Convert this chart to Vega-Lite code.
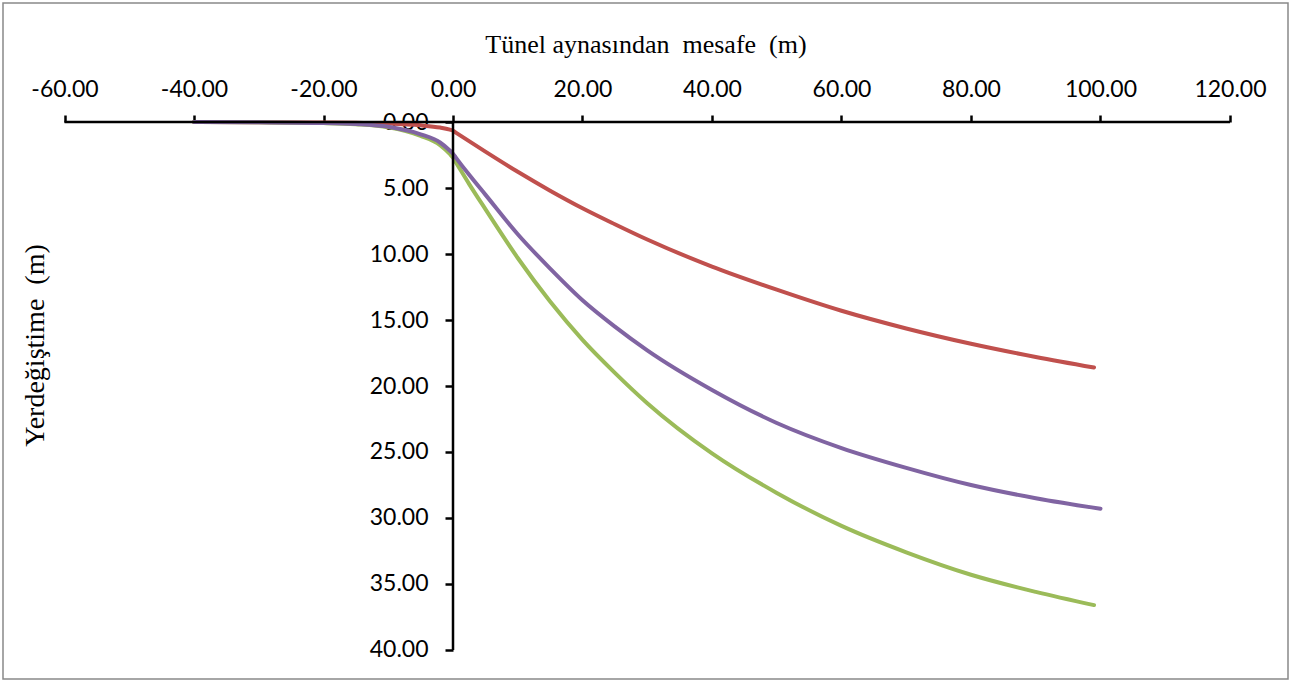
{
  "$schema": "https://vega.github.io/schema/vega-lite/v6.json",
  "width": 1285,
  "height": 676,
  "autosize": "none",
  "padding": {"left": 3, "top": 3, "right": 11, "bottom": 3},
  "background": "white",
  "config": {
    "view": {"stroke": "#898989", "strokeWidth": 1.5},
    "axis": {
      "grid": false,
      "domain": false,
      "tickColor": "black",
      "tickWidth": 2.5,
      "labelColor": "black",
      "labelFont": "Lato",
      "labelFontSize": 23,
      "labelOverlap": false,
      "labelFlush": false,
      "titleColor": "black",
      "titleFont": "Liberation Serif",
      "titleFontWeight": "normal"
    }
  },
  "layer": [
    {
      "data": {
        "values": [
          {"mesafe": -40, "deplasman": 0, "seri": "s1"},
          {"mesafe": -30, "deplasman": 0.01, "seri": "s1"},
          {"mesafe": -20, "deplasman": 0.03, "seri": "s1"},
          {"mesafe": -15, "deplasman": 0.06, "seri": "s1"},
          {"mesafe": -10, "deplasman": 0.11, "seri": "s1"},
          {"mesafe": -5, "deplasman": 0.25, "seri": "s1"},
          {"mesafe": -2, "deplasman": 0.42, "seri": "s1"},
          {"mesafe": -0.5, "deplasman": 0.58, "seri": "s1"},
          {"mesafe": 0, "deplasman": 0.66, "seri": "s1"},
          {"mesafe": 0.5, "deplasman": 0.82, "seri": "s1"},
          {"mesafe": 5, "deplasman": 2.24, "seri": "s1"},
          {"mesafe": 10, "deplasman": 3.77, "seri": "s1"},
          {"mesafe": 15, "deplasman": 5.2, "seri": "s1"},
          {"mesafe": 20, "deplasman": 6.53, "seri": "s1"},
          {"mesafe": 25, "deplasman": 7.74, "seri": "s1"},
          {"mesafe": 30, "deplasman": 8.9, "seri": "s1"},
          {"mesafe": 40, "deplasman": 10.95, "seri": "s1"},
          {"mesafe": 50, "deplasman": 12.7, "seri": "s1"},
          {"mesafe": 60, "deplasman": 14.3, "seri": "s1"},
          {"mesafe": 70, "deplasman": 15.64, "seri": "s1"},
          {"mesafe": 80, "deplasman": 16.8, "seri": "s1"},
          {"mesafe": 90, "deplasman": 17.8, "seri": "s1"},
          {"mesafe": 99, "deplasman": 18.6, "seri": "s1"},

          {"mesafe": -40, "deplasman": 0, "seri": "s2"},
          {"mesafe": -30, "deplasman": 0.02, "seri": "s2"},
          {"mesafe": -20, "deplasman": 0.08, "seri": "s2"},
          {"mesafe": -15, "deplasman": 0.17, "seri": "s2"},
          {"mesafe": -10, "deplasman": 0.4, "seri": "s2"},
          {"mesafe": -5, "deplasman": 1.05, "seri": "s2"},
          {"mesafe": -2, "deplasman": 1.75, "seri": "s2"},
          {"mesafe": -0.5, "deplasman": 2.42, "seri": "s2"},
          {"mesafe": 0, "deplasman": 2.7, "seri": "s2"},
          {"mesafe": 0.5, "deplasman": 3.1, "seri": "s2"},
          {"mesafe": 2.5, "deplasman": 4.7, "seri": "s2"},
          {"mesafe": 5, "deplasman": 6.6, "seri": "s2"},
          {"mesafe": 10, "deplasman": 10.3, "seri": "s2"},
          {"mesafe": 15, "deplasman": 13.6, "seri": "s2"},
          {"mesafe": 20, "deplasman": 16.5, "seri": "s2"},
          {"mesafe": 25, "deplasman": 19.0, "seri": "s2"},
          {"mesafe": 30, "deplasman": 21.3, "seri": "s2"},
          {"mesafe": 40, "deplasman": 25.1, "seri": "s2"},
          {"mesafe": 50, "deplasman": 28.1, "seri": "s2"},
          {"mesafe": 60, "deplasman": 30.6, "seri": "s2"},
          {"mesafe": 70, "deplasman": 32.6, "seri": "s2"},
          {"mesafe": 80, "deplasman": 34.3, "seri": "s2"},
          {"mesafe": 90, "deplasman": 35.6, "seri": "s2"},
          {"mesafe": 99, "deplasman": 36.6, "seri": "s2"},

          {"mesafe": -40, "deplasman": 0, "seri": "s3"},
          {"mesafe": -30, "deplasman": 0.02, "seri": "s3"},
          {"mesafe": -20, "deplasman": 0.07, "seri": "s3"},
          {"mesafe": -15, "deplasman": 0.15, "seri": "s3"},
          {"mesafe": -10, "deplasman": 0.36, "seri": "s3"},
          {"mesafe": -5, "deplasman": 0.93, "seri": "s3"},
          {"mesafe": -2, "deplasman": 1.55, "seri": "s3"},
          {"mesafe": -0.5, "deplasman": 2.16, "seri": "s3"},
          {"mesafe": 0, "deplasman": 2.4, "seri": "s3"},
          {"mesafe": 0.5, "deplasman": 2.73, "seri": "s3"},
          {"mesafe": 2.5, "deplasman": 4.0, "seri": "s3"},
          {"mesafe": 5, "deplasman": 5.5, "seri": "s3"},
          {"mesafe": 10, "deplasman": 8.5, "seri": "s3"},
          {"mesafe": 15, "deplasman": 11.1, "seri": "s3"},
          {"mesafe": 20, "deplasman": 13.5, "seri": "s3"},
          {"mesafe": 25, "deplasman": 15.5, "seri": "s3"},
          {"mesafe": 30, "deplasman": 17.3, "seri": "s3"},
          {"mesafe": 40, "deplasman": 20.3, "seri": "s3"},
          {"mesafe": 50, "deplasman": 22.8, "seri": "s3"},
          {"mesafe": 60, "deplasman": 24.7, "seri": "s3"},
          {"mesafe": 70, "deplasman": 26.2, "seri": "s3"},
          {"mesafe": 80, "deplasman": 27.5, "seri": "s3"},
          {"mesafe": 90, "deplasman": 28.5, "seri": "s3"},
          {"mesafe": 100, "deplasman": 29.3, "seri": "s3"}
        ]
      },
      "mark": {"type": "line", "interpolate": "monotone", "strokeWidth": 4, "strokeCap": "round", "strokeJoin": "round"},
      "encoding": {
        "x": {
          "field": "mesafe",
          "type": "quantitative",
          "scale": {"domain": [-69.5, 128.96], "nice": false, "zero": false},
          "axis": {
            "orient": "top",
            "offset": -119,
            "values": [-60, -40, -20, 0, 20, 40, 60, 80, 100, 120],
            "labelExpr": "replace(format(datum.value, '.2f'), '\u2212', '-')",
            "tickSize": 7,
            "labelPadding": 14,
            "title": "Tünel aynasından\u00a0 mesafe\u00a0 (m)",
            "titleFontSize": 26,
            "titlePadding": 21
          }
        },
        "y": {
          "field": "deplasman",
          "type": "quantitative",
          "scale": {"domain": [-9.02, 42.2], "reverse": true, "nice": false, "zero": false},
          "axis": {
            "orient": "left",
            "offset": -450,
            "values": [0, 5, 10, 15, 20, 25, 30, 35, 40],
            "format": ".2f",
            "tickSize": 8,
            "labelPadding": 17,
            "labelBaseline": "middle",
            "title": "Yerdeğiştime\u00a0 (m)",
            "titleFontSize": 28,
            "titleX": -418,
            "titleY": 342,
            "titleBaseline": "middle",
            "titleAlign": "center"
          }
        },
        "color": {
          "field": "seri",
          "type": "nominal",
          "scale": {"domain": ["s1", "s2", "s3"], "range": ["#C0504D", "#9BBB59", "#8064A2"]},
          "legend": null
        }
      }
    },
    {
      "data": {"values": [{"bas": -60, "son": 120, "seviye": 0}]},
      "mark": {"type": "rule", "color": "black", "strokeWidth": 2.5},
      "encoding": {
        "x": {"field": "bas", "type": "quantitative"},
        "x2": {"field": "son"},
        "y": {"field": "seviye", "type": "quantitative"}
      }
    },
    {
      "data": {"values": [{"konum": 0, "ust": 0, "alt": 40}]},
      "mark": {"type": "rule", "color": "black", "strokeWidth": 2.5},
      "encoding": {
        "x": {"field": "konum", "type": "quantitative"},
        "y": {"field": "ust", "type": "quantitative"},
        "y2": {"field": "alt"}
      }
    }
  ]
}
